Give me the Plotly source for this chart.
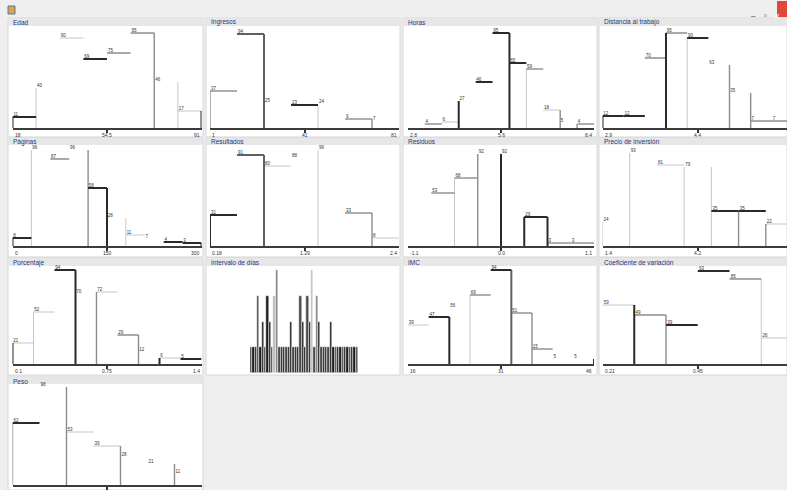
import plotly.graph_objects as go

W, H = 787, 490

# ---------------- data ----------------
titles = ["Edad", "Ingresos", "Horas", "Distancia al trabajo",
          "Páginas", "Resultados", "Residuos", "Precio de inversión",
          "Porcentaje", "Intervalo de días", "IMC", "Coeficiente de variación",
          "Peso"]

edad = [11, 40, 90, 69, 75, 95, 46, 17]
ingresos = [37, 94, 25, 23, 24, 9, 7]
horas = [0, 4, 6, 27, 46, 95, 65, 59, 18, 5, 4]
distancia = [12, 12, 70, 95, 90, 63, 35, 7, 7]
paginas = [8, 96, 87, 96, 58, 28, 11, 7, 4, 3]
resultados = [31, 91, 80, 88, 96, 33, 8]
residuos = [0, 53, 68, 92, 92, 29, 3, 3]
precio = [24, 93, 81, 79, 35, 35, 22]
porcentaje = [21, 52, 94, 70, 72, 29, 12, 6, 5]
intervalo = [1, 1, 1, 3, 1, 2, 1, 3, 2, 1, 3, 4, 1, 1, 1, 1, 1, 2, 1, 1, 1, 3, 2,
             1, 3, 2, 4, 1, 3, 2, 1, 1, 1, 1, 2, 1, 1, 1, 1, 1, 1, 1, 1, 1, 1, 1]
imc = [39, 47, 56, 69, 94, 51, 15, 5, 5]
coef = [59, 49, 39, 93, 85, 26]
peso = [62, 98, 53, 39, 28, 21, 11]

# x ranges (first edge, last edge) and tick labels (min, mid, max)
ranges = [(18, 91), (1, 81), (2.8, 8.4), (2.9, 5.9),
          (0, 300), (0.18, 2.4), (-1.1, 1.1), (1.4, 7.0),
          (0.1, 1.4), (0, 46), (16, 46), (0.21, 0.69),
          (40, 120)]
tick_labels = [["18", "54.5", "91"], ["1", "41", "81"], ["2.8", "5.6", "8.4"], ["2.9", "4.4", "5.9"],
               ["0", "150", "300"], ["0.18", "1.29", "2.4"], ["-1.1", "0.0", "1.1"], ["1.4", "4.2", "7"],
               ["0.1", "0.75", "1.4"], [], ["16", "31", "46"], ["0.21", "0.45", "0.69"],
               []]

series = [edad, ingresos, horas, distancia, paginas, resultados, residuos, precio,
          porcentaje, intervalo, imc, coef, peso]

# ---------------- styles ----------------
# per bin: top / left edge / right edge line style
bin_styles = [
    ["kk-", "-l-", "l--", "k--", "g--", "g-g", "--l", "l-k"],
    ["gg-", "m-m", "---", "k-l", "---", "g-g", "---"],
    ["---", "g--", "l--", "-k-", "k--", "k-k", "k--", "gl-", "l-g", "---", "gg-"],
    ["kk-", "k--", "g--", "gk-", "kl-", "--g", "--g", "g--", "g--"],
    ["kk-", "-l-", "g--", "--g", "k-k", "--l", "l--", "---", "k--", "k-k"],
    ["kk-", "m-m", "l--", "---", "-l-", "g-g", "l--"],
    ["---", "g--", "gl-", "-g-", "-k-", "kkk", "g--", "g--"],
    ["-l-", "-l-", "l--", "-ll", "k--", "kg-", "lg-"],
    ["lk-", "ll-", "k-k", "---", "lg-", "g-g", "---", "lk-", "k--"],
    None,
    ["l--", "k-k", "---", "gl-", "k-m", "g-g", "g--", "---", "--k"],
    ["l-k", "g-g", "k--", "k--", "g-l", "l--"],
    ["kg-", "--g", "l--", "l-g", "---", "--g", "---"],
]
line_styles = {"l": ("#c6c6c6", 1.0), "g": ("#8c8c8c", 1.4),
               "m": ("#606060", 2.0), "k": ("#2a2a2a", 2.0)}

bar_colors = ["#1e1e1e" if i % 3 else "#4a4a4a" for i in range(len(intervalo))]
for i in (10, 26):
    bar_colors[i] = "#bdbdbd"
for i in (11, 28):
    bar_colors[i] = "#7a7a7a"

# ---------------- layout geometry (pixels) ----------------
col_outer = [(8, 203), (206, 400), (403, 597), (599, 787)]
col_plot = [(12.5, 201.5), (210, 399), (408, 594), (602.5, 793)]
# strip top, strip bottom, panel bottom, axis line
rows = [(18, 26, 137, 128), (138, 145, 257, 246), (258, 266, 375, 364), (377, 384, 490, 485)]


def px(x):
    return x / W


def py(y):
    return 1 - y / H


fig = go.Figure()
shapes = []
annotations = []
layout_axes = {}

for k in range(13):
    r, c = divmod(k, 4)
    st, sb, pb, ay = rows[r]
    ox0, ox1 = col_outer[c]
    # panel background + title strip
    shapes.append(dict(type="rect", xref="paper", yref="paper", x0=px(ox0), x1=px(ox1),
                       y0=py(min(pb, H)), y1=py(st), fillcolor="white",
                       line=dict(color="#d6d6d6", width=1), layer="below"))
    shapes.append(dict(type="rect", xref="paper", yref="paper", x0=px(ox0), x1=px(ox1),
                       y0=py(sb), y1=py(st), fillcolor="#e7e7e7",
                       line=dict(width=0), layer="below"))
    annotations.append(dict(text=titles[k], xref="paper", yref="paper", x=px(ox0 + 3),
                            y=py((st + sb) / 2 + 0.5), xanchor="left", yanchor="middle",
                            showarrow=False, font=dict(size=6.5, color="#26377f",
                                                       family="Liberation Sans")))

    ax = "" if k == 0 else str(k + 1)
    vals = series[k]
    lo, hi = ranges[k]
    n = len(vals)
    bw = (hi - lo) / n

    if bin_styles[k] is None:
        # dense bar panel
        L, R = 250, 358
        base = 373
        fig.add_trace(go.Bar(x=[lo + (i + 0.5) * bw for i in range(n)], y=vals, width=bw,
                             marker=dict(color=bar_colors, line=dict(color="white", width=0.5)),
                             xaxis="x" + ax, yaxis="y" + ax, showlegend=False))
        layout_axes["xaxis" + ax] = dict(domain=[px(L), px(R)], range=[lo, hi], visible=False,
                                         anchor="y" + ax)
        layout_axes["yaxis" + ax] = dict(domain=[py(base), py(base - 106)], range=[0, 106 / 25.75],
                                         visible=False, anchor="x" + ax)
        continue

    L, R = col_plot[c]
    Rv = min(R, W)
    vis_hi = lo + (hi - lo) * (Rv - L) / (R - L)

    segs = {s: ([], []) for s in line_styles}
    for i, v in enumerate(vals):
        x0, x1 = lo + i * bw, lo + (i + 1) * bw
        top, left, right = bin_styles[k][i]
        if top != "-":
            segs[top][0].extend([x0, x1, None]); segs[top][1].extend([v, v, None])
        if left != "-":
            segs[left][0].extend([x0, x0, None]); segs[left][1].extend([0, v, None])
        if right != "-":
            segs[right][0].extend([x1, x1, None]); segs[right][1].extend([0, v, None])
    for s in ["l", "g", "m", "k"]:
        xs, ys = segs[s]
        if xs:
            col, wd = line_styles[s]
            fig.add_trace(go.Scatter(x=xs, y=ys, mode="lines", line=dict(color=col, width=wd),
                                     xaxis="x" + ax, yaxis="y" + ax, showlegend=False,
                                     hoverinfo="skip", cliponaxis=False))
    # count labels
    lx = [lo + i * bw + 0.04 * bw for i, v in enumerate(vals) if v > 0]
    ly = [v for v in vals if v > 0]
    fig.add_trace(go.Scatter(x=lx, y=ly, mode="text", text=[str(v) for v in ly],
                             textposition="top right",
                             textfont=dict(size=4.5, color="#333", family="Liberation Sans"),
                             xaxis="x" + ax, yaxis="y" + ax, showlegend=False,
                             hoverinfo="skip", cliponaxis=False))

    mid = (lo + hi) / 2
    layout_axes["xaxis" + ax] = dict(domain=[px(L), px(Rv)], range=[lo, vis_hi],
                                     showgrid=False, zeroline=False, showline=True,
                                     linecolor="#3c3c3c", linewidth=1.8,
                                     tickvals=[mid], ticks="outside", ticklen=3,
                                     tickwidth=1.5, tickcolor="#333", showticklabels=False,
                                     anchor="y" + ax, fixedrange=True)
    layout_axes["yaxis" + ax] = dict(domain=[py(ay), py(ay - 100)], range=[0, 100],
                                     visible=False, anchor="x" + ax, fixedrange=True)

    # tick labels
    for j, (tv, anc) in enumerate(zip([lo, mid, hi], ["left", "center", "right"])):
        if j < len(tick_labels[k]) and tv <= vis_hi + 1e-9:
            tx = L + (tv - lo) / (hi - lo) * (R - L)
            annotations.append(dict(text=tick_labels[k][j], xref="paper", yref="paper",
                                    x=px(tx), y=py(ay + 7), xanchor=anc, yanchor="middle",
                                    showarrow=False,
                                    font=dict(size=5, color="#333", family="Liberation Sans")))

# window chrome
shapes.append(dict(type="rect", xref="paper", yref="paper", x0=px(777), x1=px(787),
                   y0=py(17), y1=py(1), fillcolor="#e0483e", line=dict(width=0)))
shapes.append(dict(type="rect", xref="paper", yref="paper", x0=px(8), x1=px(15),
                   y0=py(14), y1=py(6), fillcolor="#e9a23b", line=dict(color="#4a78b5", width=1)))
annotations.append(dict(text="×", xref="paper", yref="paper", x=px(782), y=py(9),
                        showarrow=False, font=dict(size=10, color="white")))
annotations.append(dict(text="–", xref="paper", yref="paper", x=px(758), y=py(9),
                        showarrow=False, font=dict(size=8, color="#333")))
annotations.append(dict(text="▫", xref="paper", yref="paper", x=px(769), y=py(9),
                        showarrow=False, font=dict(size=8, color="#333")))

fig.update_layout(width=W, height=H, margin=dict(l=0, r=0, t=0, b=0),
                  paper_bgcolor="#efefef", plot_bgcolor="rgba(0,0,0,0)",
                  shapes=shapes, annotations=annotations, showlegend=False,
                  font=dict(family="Liberation Sans"), bargap=0, **layout_axes)

fig.write_html("out.html", config={"displayModeBar": False},
               post_script="document.body.style.margin='0px';document.body.style.overflow='hidden';")
